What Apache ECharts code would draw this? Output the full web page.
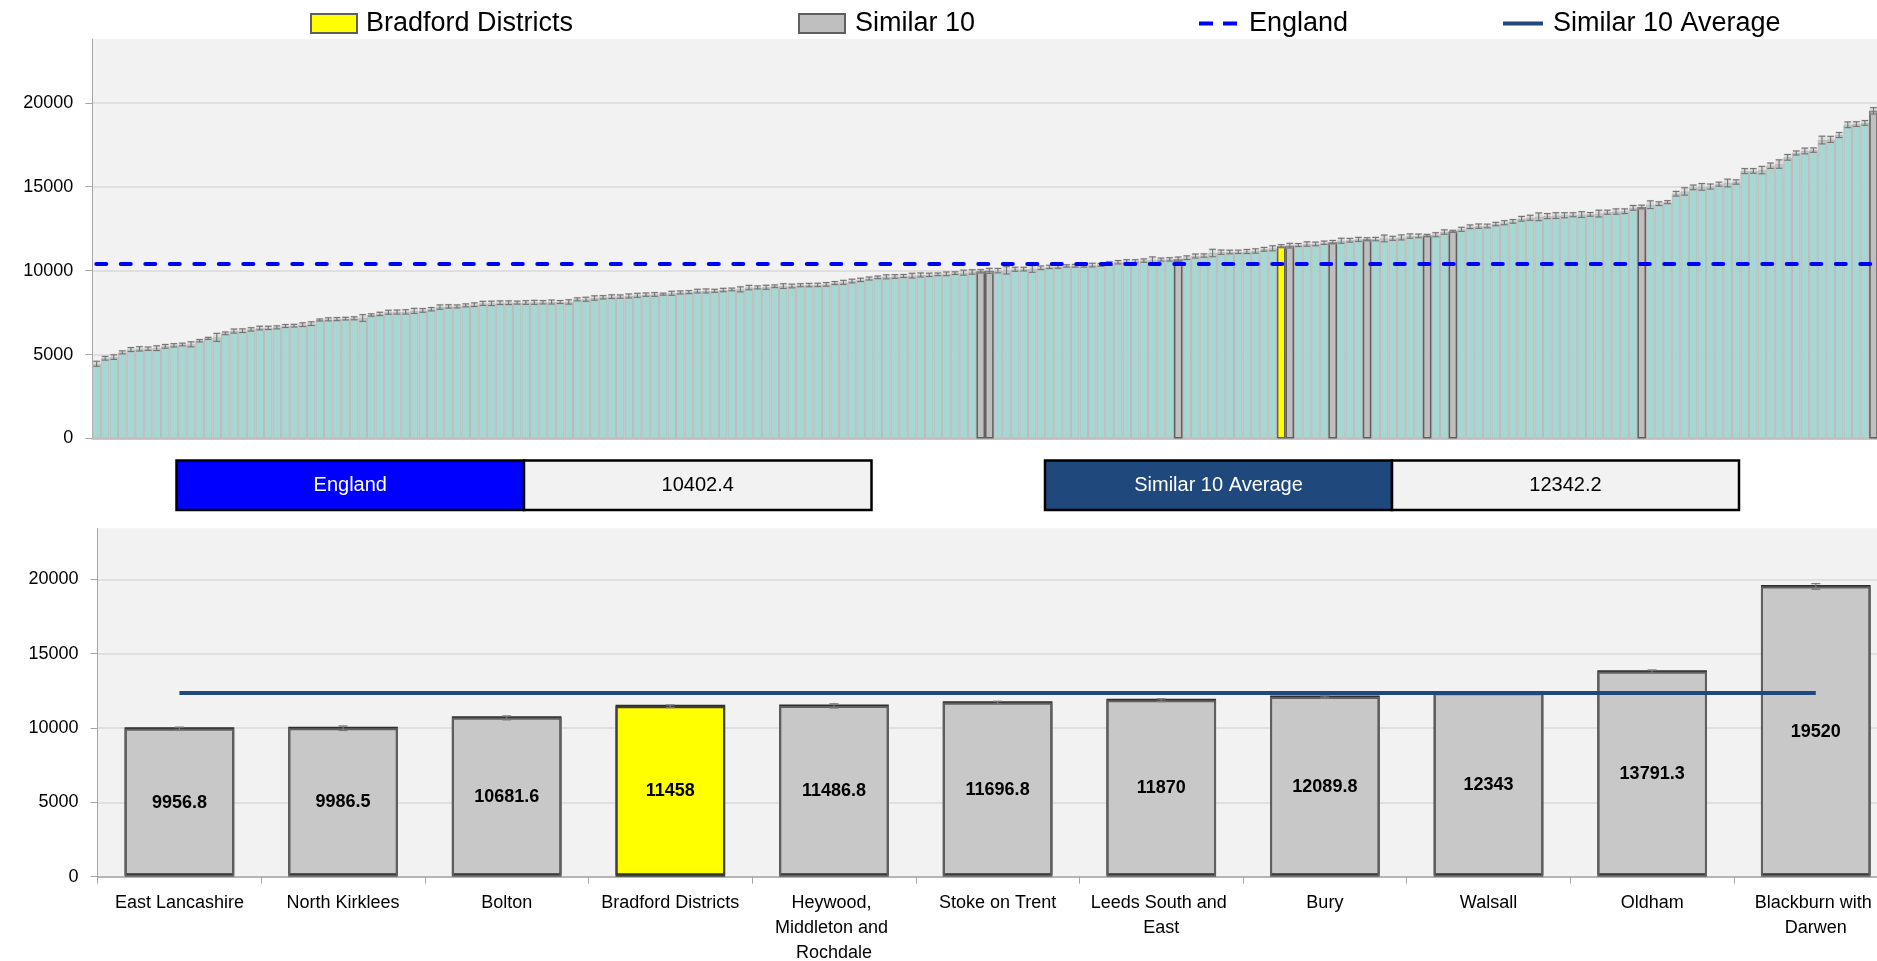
<!DOCTYPE html>
<html>
<head>
<meta charset="utf-8">
<script src="https://cdn.jsdelivr.net/npm/echarts@6/dist/echarts.min.js"></script>
<style>
  html, body { margin: 0; padding: 0; background: #ffffff; }
  #chart { width: 1877px; height: 961px; }
</style>
</head>
<body>
<div id="chart"></div>
<script>
// All CCG rates, sorted ascending (rank order along the top chart)
const ccgRates = [
  4450, 4780, 4850, 5130, 5300, 5340, 5350, 5380, 5490, 5550,
  5600, 5610, 5825, 5965, 6025, 6265, 6400, 6420, 6500, 6580,
  6590, 6620, 6700, 6720, 6780, 6840, 7060, 7100, 7110, 7140,
  7160, 7180, 7355, 7420, 7520,
  7530, 7540, 7600, 7630, 7700, 7830, 7870, 7870, 7930, 7970,
  8050, 8050, 8090, 8090, 8095, 8100, 8110, 8115, 8130, 8130,
  8135, 8290, 8295, 8370, 8410, 8450, 8455, 8490, 8530, 8570,
  8580, 8600, 8650, 8700,
  8720, 8780, 8790, 8800, 8845, 8880, 8885, 8990, 9000, 9010,
  9070, 9080, 9085, 9130, 9140, 9150, 9180, 9260, 9300, 9380,
  9450, 9530, 9600, 9630, 9650, 9680, 9700, 9740, 9750, 9780,
  9810, 9850, 9880, 9920,
  9956.8, 9986.5, 10000, 10020, 10080, 10090, 10100, 10170, 10220, 10230,
  10280, 10290, 10300, 10330, 10340, 10420, 10500, 10540, 10560, 10600,
  10620, 10660, 10670, 10681.6, 10770, 10870, 10900, 11050, 11100, 11110,
  11120, 11140, 11170, 11270, 11330,
  11458, 11486.8, 11525, 11585, 11590, 11660, 11696.8, 11780, 11810, 11860,
  11870, 11880, 11920, 11925, 11980, 12060, 12070, 12089.8, 12140, 12300,
  12343, 12460, 12615, 12650, 12660, 12775, 12855, 12935, 13090, 13150,
  13210, 13250, 13280,
  13300, 13330, 13340, 13350, 13400, 13480, 13520, 13540, 13740, 13791.3,
  13930, 13990, 14080, 14580, 14720, 14960, 14990, 15010, 15150, 15220,
  15280, 15930, 15940, 15990, 16250, 16350, 16750, 17010, 17130, 17180,
  17780, 17820, 18080, 18690, 18730, 18800, 19520
];

// Half-width of each CCG's confidence interval, same order
const ccgCI = [
  150, 110, 140, 90, 120, 130, 100, 140, 110, 100,
  80, 150, 70, 60, 240, 80, 120, 110, 100, 110,
  100, 90, 90, 80, 110, 110, 60, 90, 90, 80,
  90, 200, 70, 100, 120,
  120, 130, 150, 110, 100, 130, 100, 90, 90, 110,
  120, 130, 110, 110, 90, 110, 120, 100, 120, 90,
  130, 90, 120, 130, 100, 110, 100, 120, 120, 100,
  110, 60, 120, 90,
  90, 110, 120, 90, 100, 80, 150, 130, 90, 120,
  80, 140, 110, 90, 100, 100, 110, 90, 120, 110,
  100, 90, 80, 120, 110, 90, 140, 120, 100, 80,
  110, 80, 150, 130,
  100, 150, 130, 220, 120, 110, 200, 110, 100, 90,
  70, 80, 90, 110, 80, 110, 100, 110, 90, 100,
  200, 90, 100, 130, 110, 120, 100, 220, 130, 110,
  100, 120, 130, 110, 150,
  90, 140, 90, 130, 110, 100, 100, 150, 110, 120,
  90, 100, 200, 120, 150, 130, 110, 70, 120, 130,
  60, 120, 110, 130, 110, 100, 120, 110, 140, 150,
  230, 150, 170,
  150, 120, 170, 110, 200, 120, 160, 140, 140, 110,
  230, 110, 90, 140, 220, 140, 200, 150, 120, 230,
  130, 150, 140, 220, 160, 250, 170, 120, 170, 130,
  230, 180, 150, 170, 140, 140, 190
];

// Similar 10 peer group plus the focus CCG
const peerNames = [
  'East Lancashire', 'North Kirklees', 'Bolton', 'Bradford Districts',
  'Heywood, Middleton and Rochdale', 'Stoke on Trent', 'Leeds South and East',
  'Bury', 'Walsall', 'Oldham', 'Blackburn with Darwen'
];
const peerRates = [9956.8, 9986.5, 10681.6, 11458, 11486.8, 11696.8, 11870, 12089.8, 12343, 13791.3, 19520];
const peerCI = [100, 150, 130, 90, 140, 100, 90, 70, 60, 110, 190];
const focusName = 'Bradford Districts';

const englandRate = 10402.4;
const similarAverage = 12342.2;

// ---- derived series ----
const FONT = "'Liberation Sans', Arial, sans-serif";
const rankLabels = ccgRates.map((_, i) => String(i + 1));
const peerRank = peerRates.map(v => ccgRates.indexOf(v));

const peerOnly = ccgRates.map((v, i) => {
  const p = peerRank.indexOf(i);
  return p >= 0 && peerNames[p] !== focusName ? v : '-';
});
const focusOnly = ccgRates.map((v, i) => {
  const p = peerRank.indexOf(i);
  return p >= 0 && peerNames[p] === focusName ? v : '-';
});
const ccgErr = ccgRates.map((v, i) => [i, v - ccgCI[i], v + ccgCI[i]]);
const peerErr = peerRates.map((v, i) => [i, v - peerCI[i], v + peerCI[i]]);

const peerBarData = peerRates.map((v, i) => peerNames[i] === focusName
  ? { value: v, itemStyle: { color: '#ffff00', borderColor: '#3f3f3f' } }
  : v);

// Whisker with caps; optional soft backing box behind the whisker
function errorBars(capHalf, color, width, haze) {
  return function (params, api) {
    const x = api.value(0);
    const lo = api.coord([x, api.value(1)]);
    const hi = api.coord([x, api.value(2)]);
    const style = { stroke: color, lineWidth: width };
    const children = [];
    if (haze) {
      children.push({
        type: 'rect',
        shape: { x: lo[0] - capHalf - 0.5, y: hi[1] - 1, width: capHalf * 2 + 1, height: lo[1] - hi[1] + 2 },
        style: { fill: haze }
      });
    }
    children.push(
      { type: 'line', shape: { x1: lo[0], y1: lo[1], x2: hi[0], y2: hi[1] }, style },
      { type: 'line', shape: { x1: lo[0] - capHalf, y1: lo[1], x2: lo[0] + capHalf, y2: lo[1] }, style },
      { type: 'line', shape: { x1: hi[0] - capHalf, y1: hi[1], x2: hi[0] + capHalf, y2: hi[1] }, style }
    );
    return { type: 'group', children };
  };
}

function infoBox(x, y, w, h, label, value, fill) {
  return [
    { type: 'rect', shape: { x: x, y: y, width: w, height: h }, style: { fill: fill, stroke: '#000', lineWidth: 2.5 } },
    { type: 'rect', shape: { x: x + w, y: y, width: w, height: h }, style: { fill: '#f2f2f2', stroke: '#000', lineWidth: 2.5 } },
    { type: 'text', x: x + w / 2, y: y + h / 2, style: { text: label, fill: '#ffffff', fontSize: 20, fontFamily: FONT, align: 'center', verticalAlign: 'middle' } },
    { type: 'text', x: x + w * 1.5, y: y + h / 2, style: { text: String(value), fill: '#000000', fontSize: 20, fontFamily: FONT, align: 'center', verticalAlign: 'middle' } }
  ];
}

function legendItem(name, left, icon, w, h, pad) {
  return {
    top: 5, left: left, itemWidth: w, itemHeight: h, selectedMode: false,
    icon: icon,
    data: [name],
    textStyle: { fontSize: 27, color: '#000', fontFamily: FONT, padding: [0, 0, 0, pad] }
  };
}

const valueAxis = (grid, max) => ({
  type: 'value', gridIndex: grid, min: 0, max: max, interval: 5000,
  axisLine: { show: true, lineStyle: { color: '#a6a6a6', width: 1 } },
  axisTick: { show: true, length: 7, lineStyle: { color: '#a6a6a6' } },
  splitLine: { show: true, showMaxLine: false, lineStyle: { color: '#d9d9d9', width: 1.5 } },
  axisLabel: {
    fontSize: 18, color: '#000', fontFamily: FONT, margin: 19, showMaxLabel: false,
    formatter: v => String(v)
  }
});

const option = {
  animation: false,
  backgroundColor: '#ffffff',
  textStyle: { fontFamily: FONT },
  legend: [
    legendItem('Bradford Districts', 305, 'rect', 46, 19, 4),
    legendItem('Similar 10', 793, 'rect', 46, 19, 5),
    legendItem('England', 1194, 'path://M0,0h14v4h-14z M24,0h14v4h-14z', 38, 4, 7),
    legendItem('Similar 10 Average', 1498, 'path://M0,0h40v4h-40z', 40, 4, 5)
  ],
  grid: [
    { left: 92.3, top: 39, width: 1785.5, height: 399.5, show: true, backgroundColor: '#f2f2f2', borderWidth: 0, outerBoundsMode: 'none', containLabel: false },
    { left: 97.6, top: 528.3, width: 1800, height: 348.4, show: true, backgroundColor: '#f2f2f2', borderWidth: 0, outerBoundsMode: 'none', containLabel: false }
  ],
  xAxis: [
    {
      type: 'category', gridIndex: 0, data: rankLabels,
      axisLine: { show: true, lineStyle: { color: '#bfbfbf', width: 1.5 } },
      axisTick: { show: false }, axisLabel: { show: false }
    },
    {
      type: 'category', gridIndex: 1, data: peerNames,
      axisLine: { show: true, lineStyle: { color: '#a6a6a6', width: 1.5 } },
      axisTick: { show: true, length: 7, lineStyle: { color: '#a6a6a6' } },
      axisLabel: {
        interval: 0, fontSize: 18, color: '#000', fontFamily: FONT,
        width: 150, overflow: 'break', lineHeight: 25, margin: 14
      }
    }
  ],
  yAxis: [valueAxis(0, 23800), valueAxis(1, 23430)],
  graphic: [].concat(
    infoBox(176.5, 460.5, 347.5, 49.5, 'England', englandRate, '#0000ff'),
    infoBox(1045, 460.5, 347, 49.5, 'Similar 10 Average', similarAverage, '#1f497d')
  ),
  series: [
    {
      name: 'All CCGs', type: 'bar', xAxisIndex: 0, yAxisIndex: 0,
      data: ccgRates, barCategoryGap: '0%', barGap: '-100%', z: 2,
      itemStyle: { color: '#a6d8d3', borderColor: '#c3b6b9', borderWidth: 1 }
    },
    {
      name: 'Similar 10', type: 'bar', xAxisIndex: 0, yAxisIndex: 0,
      data: peerOnly, barCategoryGap: '0%', barGap: '-100%', z: 3,
      itemStyle: { color: '#bfbfbf', borderColor: '#5f5f5f', borderWidth: 1.5 }
    },
    {
      name: 'Bradford Districts', type: 'bar', xAxisIndex: 0, yAxisIndex: 0,
      data: focusOnly, barCategoryGap: '0%', barGap: '-100%', z: 3,
      itemStyle: { color: '#ffff00', borderColor: '#5f5f5f', borderWidth: 1.5 }
    },
    {
      name: 'CCG interval', type: 'custom', xAxisIndex: 0, yAxisIndex: 0,
      data: ccgErr, encode: { x: 0, y: [1, 2] }, z: 4, silent: true,
      renderItem: errorBars(3.3, '#737373', 1.1, 'rgba(190,190,190,0.45)')
    },
    {
      name: 'England', type: 'line', xAxisIndex: 0, yAxisIndex: 0, data: [],
      symbol: 'none', z: 6,
      itemStyle: { color: '#0000ff' },
      lineStyle: { color: '#0000ff', width: 4, type: [10, 14.5], cap: 'round' },
      markLine: {
        silent: true, symbol: ['none', 'none'], label: { show: false },
        lineStyle: { color: '#0000ff', width: 4, type: [10, 14.5], cap: 'round', dashOffset: -4 },
        data: [{ yAxis: englandRate }]
      }
    },
    {
      name: 'Peer rates', type: 'bar', xAxisIndex: 1, yAxisIndex: 1,
      data: peerBarData, barCategoryGap: '33%', z: 2,
      itemStyle: {
        color: '#c8c8c8', borderColor: '#606060', borderWidth: 2,
        shadowColor: '#2f2f2f', shadowBlur: 0, shadowOffsetY: -1.5
      },
      label: {
        show: true, position: 'inside', fontSize: 18, fontWeight: 'bold',
        color: '#000', fontFamily: FONT
      }
    },
    {
      name: 'Peer interval', type: 'custom', xAxisIndex: 1, yAxisIndex: 1,
      data: peerErr, encode: { x: 0, y: [1, 2] }, z: 4, silent: true,
      renderItem: errorBars(4.5, '#7a7a7a', 1.3)
    },
    {
      name: 'Similar 10 Average', type: 'line', xAxisIndex: 1, yAxisIndex: 1, data: [],
      symbol: 'none', z: 6,
      itemStyle: { color: '#1f497d' },
      lineStyle: { color: '#1f497d', width: 4 },
      markLine: {
        silent: true, symbol: ['none', 'none'], label: { show: false },
        lineStyle: { color: '#1f497d', width: 4, type: 'solid' },
        data: [[
          { coord: [peerNames[0], similarAverage] },
          { coord: [peerNames[peerNames.length - 1], similarAverage] }
        ]]
      }
    }
  ]
};

const chart = echarts.init(document.getElementById('chart'), null, { renderer: 'canvas' });
chart.setOption(option);
</script>
</body>
</html>
